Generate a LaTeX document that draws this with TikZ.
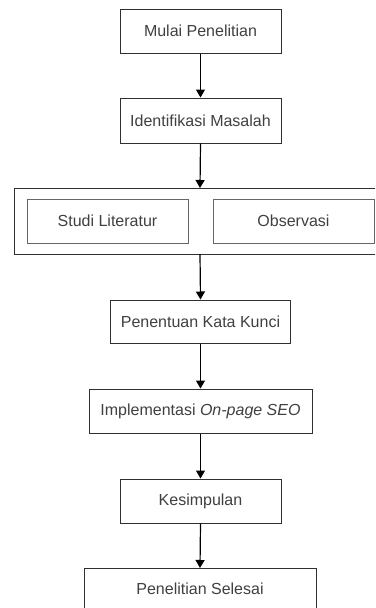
\documentclass[tikz,border=0pt]{standalone}
\usepackage{fontspec}
\setmainfont{Liberation Sans}
\usetikzlibrary{arrows.meta}
\definecolor{txt}{HTML}{404040}
\definecolor{edge}{HTML}{303030}
\begin{document}
\begin{tikzpicture}[x=1pt,y=-1pt,
  box/.style={draw=edge,line width=1pt,fill=white,inner sep=0pt,
    text=txt,font=\fontsize{16}{19}\selectfont,anchor=center},
  flow/.style={-{Triangle[width=9pt,length=8pt]},line width=1.2pt,black}]
\path[use as bounding box] (0,0) rectangle (375,608);
\clip (0,0) rectangle (375,608);
\fill[white] (0,0) rectangle (375,608);
\node[box,minimum width=161pt,minimum height=44pt] (b1) at (200.5,31) {Mulai Penelitian};
\node[box,minimum width=161pt,minimum height=45pt] (b2) at (200.5,120.5) {Identifikasi Masalah};
\node[box,minimum width=374pt,minimum height=66pt] (cont) at (201,221) {};
\node[box,draw=gray!80!black,minimum width=161pt,minimum height=44pt] (studi) at (107.5,221) {Studi Literatur};
\node[box,draw=gray!80!black,minimum width=161pt,minimum height=44pt] (obs) at (293.5,221) {Observasi};
\node[box,minimum width=180pt,minimum height=43pt] (b4) at (200.5,321.5) {Penentuan Kata Kunci};
\node[box,minimum width=223pt,minimum height=44pt] (b5) at (200.5,411) {Implementasi \textit{On-page SEO}};
\node[box,minimum width=161pt,minimum height=44pt] (b6) at (200.5,501) {Kesimpulan};
\node[box,minimum width=232pt,minimum height=44pt,anchor=north] (b7) at (200,568) {};
\node[text=txt,font=\fontsize{16}{19}\selectfont] (t7) at (200,589) {Penelitian Selesai};
\coordinate (c1) at (200,188);
\coordinate (c2) at (200,254);
\draw[flow] (b1.south) -- (b2.north);
\draw[flow] (b2.south) -- (c1);
\draw[flow] (c2) -- (b4.north);
\draw[flow] (b4.south) -- (b5.north);
\draw[flow] (b5.south) -- (b6.north);
\draw[flow] (b6.south) -- (b7.north);
\end{tikzpicture}
\end{document}
